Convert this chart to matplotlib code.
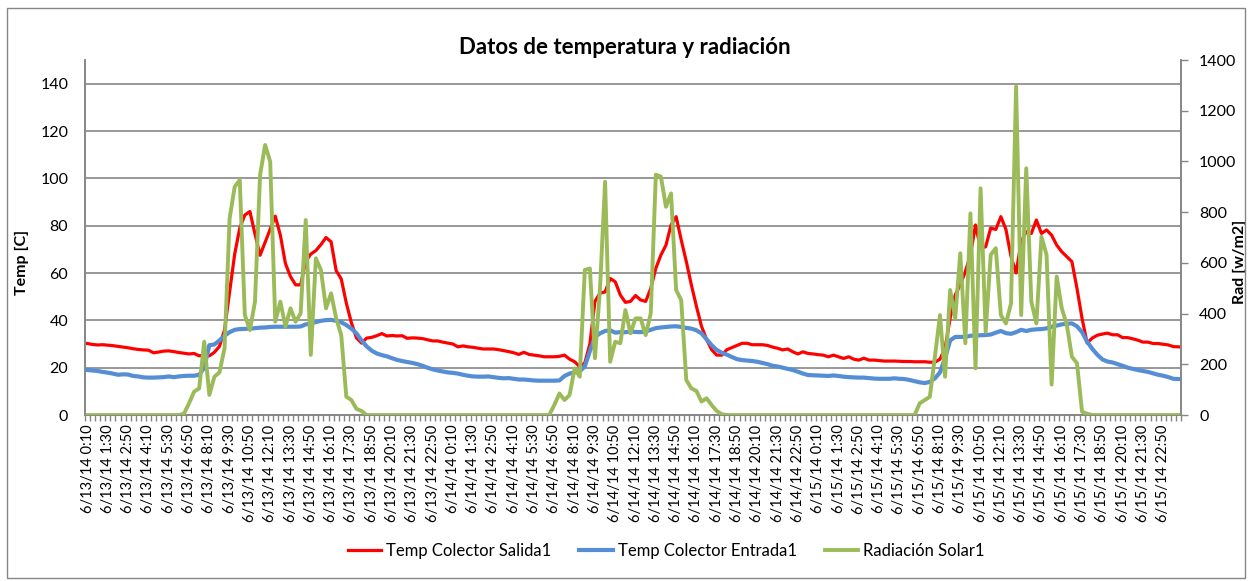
import matplotlib
matplotlib.use("Agg")
import matplotlib.pyplot as plt
import matplotlib.patches as mpatches
import numpy as np
import pandas as pd

plt.rcParams['font.family'] = ['Lato', 'DejaVu Sans']

# 20-minute samples, 6/13/14 0:10 .. 6/15/14 23:50
stamps = pd.date_range("2014-06-13 00:10", periods=216, freq="20min")
categories = ["%d/%d/%s %d:%02d" % (t.month, t.day, str(t.year)[2:], t.hour, t.minute) for t in stamps]

# Temp Colector Salida1 [C]
temp_salida = [
    # 6/13
    30.2, 29.8, 29.6, 29.7, 29.5, 29.3, 29.0, 28.7, 28.4, 28.0, 27.7, 27.5,
    27.4, 26.3, 26.6, 27.0, 27.1, 26.8, 26.4, 26.1, 25.8, 26.0, 25.0, 25.3,
    25.0, 26.5, 29.0, 36.0, 52.0, 68.0, 79.0, 84.5, 86.0, 76.5, 67.5, 73.0,
    78.5, 84.0, 76.0, 64.0, 58.5, 55.0, 55.0, 65.0, 68.0, 69.5, 72.0, 75.0,
    73.2, 61.0, 57.5, 47.3, 39.0, 32.6, 30.4, 32.5, 32.8, 33.5, 34.4, 33.4,
    33.6, 33.4, 33.5, 32.4, 32.6, 32.5, 32.3, 31.8, 31.3, 31.3, 30.8, 30.4,
    # 6/14
    30.0, 28.8, 29.2, 28.8, 28.6, 28.2, 27.9, 27.9, 27.9, 27.6, 27.2, 26.8,
    26.3, 25.6, 26.5, 25.6, 25.3, 25.0, 24.6, 24.6, 24.6, 24.8, 25.3, 23.6,
    22.5, 20.4, 22.0, 30.0, 48.0, 51.5, 52.0, 57.7, 56.3, 50.7, 47.6, 48.0,
    50.5, 48.6, 48.0, 53.5, 62.0, 67.6, 71.8, 80.3, 83.8, 74.0, 64.9, 55.0,
    45.9, 37.5, 31.9, 27.6, 25.3, 25.3, 27.6, 28.5, 29.4, 30.3, 30.3, 29.7,
    29.7, 29.7, 29.4, 28.7, 28.2, 27.5, 27.9, 26.7, 25.8, 26.7, 26.0, 25.8,
    # 6/15
    25.5, 25.3, 24.6, 25.3, 24.6, 23.9, 24.6, 23.6, 23.2, 24.0, 23.2, 23.2,
    23.0, 22.8, 22.8, 22.8, 22.7, 22.6, 22.6, 22.5, 22.5, 22.5, 22.3, 22.3,
    23.6, 28.2, 40.9, 50.7, 55.0, 60.6, 67.6, 80.3, 70.4, 71.1, 79.0, 78.4,
    83.8, 78.4, 67.0, 60.0, 73.2, 77.5, 76.7, 82.4, 76.7, 78.2, 76.0, 71.8,
    69.0, 66.9, 64.8, 53.5, 40.8, 30.4, 32.5, 33.7, 34.2, 34.6, 33.9, 33.9,
    32.7, 32.7, 32.2, 31.6, 30.8, 30.8, 30.2, 30.2, 29.9, 29.6, 28.9, 28.8,
]

# Temp Colector Entrada1 [C]
temp_entrada = [
    # 6/13
    19.0, 18.8, 18.6, 18.2, 17.9, 17.5, 17.0, 17.2, 17.1, 16.5, 16.3, 15.9,
    15.8, 15.8, 15.9, 16.0, 16.3, 16.0, 16.3, 16.5, 16.6, 16.6, 17.0, 20.0,
    29.5, 29.8, 31.5, 33.5, 35.0, 36.0, 36.3, 36.4, 36.5, 36.7, 36.9, 37.0,
    37.2, 37.3, 37.3, 37.3, 37.3, 37.3, 37.4, 38.3, 38.6, 39.3, 39.8, 40.1,
    40.2, 39.8, 39.2, 38.0, 36.5, 34.5, 31.5, 29.0, 27.2, 26.0, 25.3, 24.8,
    24.0, 23.3, 22.8, 22.4, 22.0, 21.5, 20.8, 20.0, 19.3, 18.8, 18.4, 18.0,
    # 6/14
    17.8, 17.5, 17.0, 16.6, 16.3, 16.2, 16.2, 16.3, 16.0, 15.7, 15.5, 15.6,
    15.3, 15.0, 15.0, 14.8, 14.6, 14.5, 14.5, 14.5, 14.5, 14.6, 16.5, 17.5,
    18.0, 18.5, 20.5, 27.0, 33.0, 34.5, 35.5, 35.8, 34.8, 35.0, 35.0, 35.2,
    35.1, 35.0, 35.3, 36.0, 36.7, 37.0, 37.2, 37.4, 37.5, 37.2, 36.8, 36.5,
    35.8, 34.5, 32.0, 29.5, 27.5, 26.3, 25.5, 24.5, 23.6, 23.2, 23.0, 22.8,
    22.5, 22.0, 21.5, 20.8, 20.5, 20.0, 19.5, 19.0, 18.3, 17.5, 16.9, 16.8,
    # 6/15
    16.7, 16.6, 16.5, 16.7, 16.5, 16.2, 16.0, 15.9, 15.8, 15.8, 15.6, 15.4,
    15.3, 15.3, 15.3, 15.5, 15.3, 15.2, 14.8, 14.3, 13.8, 13.5, 14.0, 15.5,
    18.0, 24.0, 31.5, 33.0, 33.0, 33.0, 33.5, 33.6, 33.7, 33.8, 34.0, 34.8,
    35.5, 34.6, 34.3, 35.0, 36.0, 35.5, 36.0, 36.2, 36.3, 36.6, 37.3, 37.8,
    38.3, 38.6, 38.7, 37.5, 35.0, 31.0, 28.0, 25.5, 23.5, 22.6, 22.2, 21.5,
    20.8, 20.0, 19.5, 19.0, 18.6, 18.2, 17.6, 17.0, 16.6, 16.0, 15.3, 15.2,
]

# Radiación Solar1 [w/m2]
radiacion = [
    # 6/13
    0, 0, 0, 0, 0, 0, 0, 0, 0, 0, 0, 0,
    0, 0, 0, 0, 0, 0, 0, 5, 46, 92, 105, 289,
    79, 151, 168, 263, 775, 900, 927, 394, 335, 447, 946, 1065,
    999, 368, 447, 349, 421, 368, 401, 769, 237, 618, 572, 421,
    480, 381, 315, 72, 59, 24, 16, 0, 0, 0, 0, 0,
    0, 0, 0, 0, 0, 0, 0, 0, 0, 0, 0, 0,
    # 6/14
    0, 0, 0, 0, 0, 0, 0, 0, 0, 0, 0, 0,
    0, 0, 0, 0, 0, 0, 0, 0, 40, 85, 59, 79,
    184, 151, 572, 578, 224, 500, 920, 210, 289, 283, 414, 322,
    381, 381, 315, 401, 948, 940, 821, 874, 493, 453, 138, 105,
    95, 53, 66, 39, 16, 3, 0, 0, 0, 0, 0, 0,
    0, 0, 0, 0, 0, 0, 0, 0, 0, 0, 0, 0,
    # 6/15
    0, 0, 0, 0, 0, 0, 0, 0, 0, 0, 0, 0,
    0, 0, 0, 0, 0, 0, 0, 0, 46, 59, 72, 230,
    394, 151, 493, 381, 638, 283, 795, 184, 894, 328, 632, 658,
    394, 361, 440, 1295, 394, 973, 447, 361, 703, 632, 120, 546,
    421, 355, 230, 204, 13, 5, 0, 0, 0, 0, 0, 0,
    0, 0, 0, 0, 0, 0, 0, 0, 0, 0, 0, 0,
]

x = np.arange(len(categories))
grid_gray = "#868686"

fig = plt.figure(figsize=(12.5, 5.81), dpi=100)
ax = fig.add_axes([0.068, 0.2857, 0.8768, 0.611])
ax2 = ax.twinx()

# chart area border
fig.patches.append(mpatches.Rectangle((0.0056, 0.005), 0.9904, 0.981, transform=fig.transFigure,
                                      fill=False, edgecolor=grid_gray, linewidth=1.0))

ax.plot(x, temp_salida, color="#FF0000", linewidth=2.3, label="Temp Colector Salida1", zorder=3)
ax.plot(x, temp_entrada, color="#558ED5", linewidth=3.0, label="Temp Colector Entrada1", zorder=3)
ax2.plot(x, radiacion, color="#9BBB59", linewidth=2.8, label="Radiación Solar1", zorder=3)

ax.set_xlim(-0.5, len(categories) - 0.5)
ax.set_ylim(0, 150)
ax.set_yticks(np.arange(0, 141, 20))
ax2.set_ylim(0, 1400)
ax2.set_yticks(np.arange(0, 1401, 200))

ax.yaxis.grid(True, color=grid_gray, linewidth=1.2)
ax.set_axisbelow(True)

# category labels every 4th point, tick marks on the boundaries
ax.set_xticks(x[::4])
ax.set_xticklabels(categories[::4], rotation=90, fontsize=10.5)
ax.set_xticks(np.arange(len(categories) + 1) - 0.5, minor=True)
ax.tick_params(axis="x", which="major", length=0, pad=7)
ax.tick_params(axis="x", which="minor", length=4, color=grid_gray, width=1)
ax.tick_params(axis="y", length=0, labelsize=11.5, pad=12)
ax2.tick_params(axis="y", length=5, color=grid_gray, width=1, labelsize=11.5, pad=8)

for s in ["top"]:
    ax.spines[s].set_visible(False)
    ax2.spines[s].set_visible(False)
for s in ["left", "bottom", "right"]:
    ax.spines[s].set_color(grid_gray)
    ax2.spines[s].set_color(grid_gray)
    ax2.spines[s].set_linewidth(1.2)
    ax.spines[s].set_linewidth(1.2)

ax.set_ylabel("Temp [C]", fontsize=11.5, fontweight="bold")
ax.yaxis.set_label_coords(-0.0578, 0.43)
ax.yaxis.label.set_va("center")
ax2.set_ylabel("Rad [w/m2]", fontsize=11.5, fontweight="bold")
ax2.yaxis.set_label_coords(1.0538, 0.43)
ax2.yaxis.label.set_va("center")

fig.text(0.5, 0.919, "Datos de temperatura y radiación", ha="center", va="center",
         fontsize=16, fontweight="bold")

h1, l1 = ax.get_legend_handles_labels()
h2, l2 = ax2.get_legend_handles_labels()
fig.legend(h1 + h2, l1 + l2, loc="center", bbox_to_anchor=(0.533, 0.052), ncol=3,
           frameon=False, fontsize=12, handlelength=2.0, handletextpad=0.3, columnspacing=1.7)

fig.savefig("out.png", dpi=100)
